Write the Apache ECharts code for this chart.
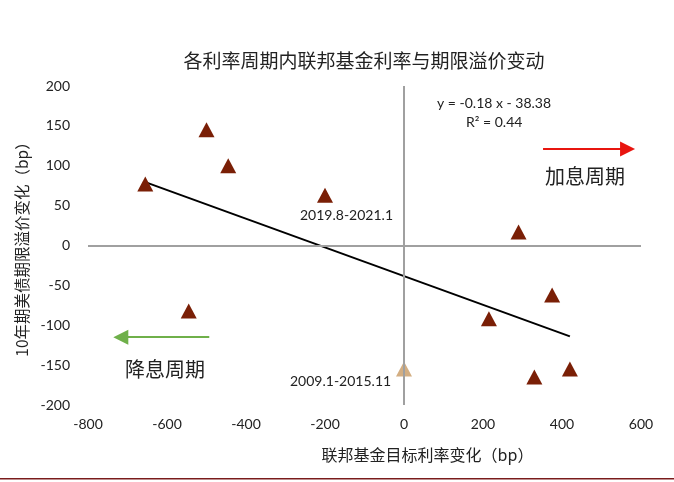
<!DOCTYPE html>
<html>
<head>
<meta charset="utf-8">
<script src="https://cdn.jsdelivr.net/npm/echarts@6/dist/echarts.min.js"></script>
<style>
html, body { margin: 0; padding: 0; background: #fff; }
#main { width: 674px; height: 482px; }
</style>
</head>
<body>
<div id="main"></div>
<script>
var myChart = echarts.init(document.getElementById('main'));

// 各周期：联邦基金目标利率变化 (bp) / 10年期期限溢价变化 (bp)
var cycleX = [-655, -500, -445, -200, -545, 290, 215, 375, 330, 420];
var cycleY = [77, 145, 100, 63, -82, 17, -92, -62, -165, -155];
var qeX = [0];          // 2009.1-2015.11
var qeY = [-155];
var trendX = [-655, 420];   // y = -0.18 x - 38.38
var trendY = [79.5, -114];
var xTicks = [-800, -600, -400, -200, 0, 200, 400, 600];
var yTicks = [-200, -150, -100, -50, 0, 50, 100, 150, 200];

var cjk = '"Noto Sans CJK SC", sans-serif';
var num = 'Lato, "Open Sans", sans-serif';

function pairs(xs, ys) {
    var arr = [];
    for (var i = 0; i < xs.length; i++) {
        arr.push([xs[i], ys[i]]);
    }
    return arr;
}

option = {
    animation: false,
    backgroundColor: '#fff',
    title: {
        text: '各利率周期内联邦基金利率与期限溢价变动',
        left: 359,
        top: 46,
        textAlign: 'center',
        textStyle: { fontFamily: cjk, fontSize: 19, fontWeight: 'normal', color: '#222' }
    },
    grid: { left: 88, right: 33, top: 86, bottom: 77 },
    xAxis: {
        type: 'value',
        min: xTicks[0],
        max: xTicks[xTicks.length - 1],
        interval: 200,
        axisLine: { show: false },
        axisTick: { show: false },
        splitLine: { show: false },
        axisLabel: { margin: 12, fontFamily: num, fontSize: 14, color: '#222' },
        name: '联邦基金目标利率变化（bp）',
        nameLocation: 'middle',
        nameGap: 42,
        nameTextStyle: { fontFamily: cjk, fontSize: 16, color: '#222', padding: [0, 0, 0, 126] }
    },
    yAxis: {
        type: 'value',
        min: yTicks[0],
        max: yTicks[yTicks.length - 1],
        interval: 50,
        axisLine: { show: false },
        axisTick: { show: false },
        splitLine: { show: false },
        axisLabel: { margin: 18, fontFamily: num, fontSize: 14, color: '#222' },
        name: '10年期美债期限溢价变化（bp）',
        nameLocation: 'middle',
        nameGap: 58,
        nameTextStyle: { fontFamily: cjk, fontSize: 15.5, color: '#222' }
    },
    series: [
        {
            // 零轴十字线 + 加息/降息箭头
            type: 'line',
            data: [],
            silent: true,
            markLine: {
                silent: true,
                symbol: ['none', 'none'],
                label: { show: false },
                data: [
                    { xAxis: 0, lineStyle: { color: '#a0a0a0', width: 2, type: 'solid' } },
                    { yAxis: 0, lineStyle: { color: '#a0a0a0', width: 2, type: 'solid' } },
                    [
                        { coord: [352, 121], symbol: 'none', lineStyle: { color: '#e8150f', width: 2, type: 'solid' } },
                        { coord: [566, 121], symbol: 'triangle', symbolSize: [15, 15], symbolRotate: -90 }
                    ],
                    [
                        { coord: [-493, -115], symbol: 'none', lineStyle: { color: '#6fb04a', width: 2, type: 'solid' } },
                        { coord: [-717, -115], symbol: 'triangle', symbolSize: [15, 15], symbolRotate: 90 }
                    ]
                ]
            }
        },
        {
            name: '趋势线',
            type: 'line',
            data: pairs(trendX, trendY),
            symbol: 'none',
            lineStyle: { color: '#000', width: 2 },
            z: 3
        },
        {
            name: '利率周期',
            type: 'scatter',
            data: pairs(cycleX, cycleY),
            symbol: 'triangle',
            symbolSize: [16, 15],
            itemStyle: { color: '#7a1f06', opacity: 1 },
            z: 4
        },
        {
            name: '2009.1-2015.11',
            type: 'scatter',
            data: pairs(qeX, qeY),
            symbol: 'triangle',
            symbolSize: [16, 15],
            itemStyle: { color: '#d3ae82', opacity: 1 },
            z: 4
        }
    ],
    graphic: [
        { type: 'text', left: 437, top: 96, style: { text: 'y = -0.18 x - 38.38', font: '14px ' + num, fill: '#222' } },
        { type: 'text', left: 466, top: 115, style: { text: 'R² = 0.44', font: '14px ' + num, fill: '#222' } },
        { type: 'text', left: 545, top: 166, style: { text: '加息周期', font: '20px ' + cjk, fill: '#222' } },
        { type: 'text', left: 125, top: 359, style: { text: '降息周期', font: '20px ' + cjk, fill: '#222' } },
        { type: 'text', left: 300, top: 208, style: { text: '2019.8-2021.1', font: '14px ' + num, fill: '#222' } },
        { type: 'text', left: 290, top: 374, style: { text: '2009.1-2015.11', font: '14px ' + num, fill: '#222' } },
        { type: 'rect', left: 0, top: 478, shape: { width: 674, height: 1.5 }, style: { fill: '#7a1c1c' } }
    ]
};

myChart.setOption(option);
</script>
</body>
</html>
